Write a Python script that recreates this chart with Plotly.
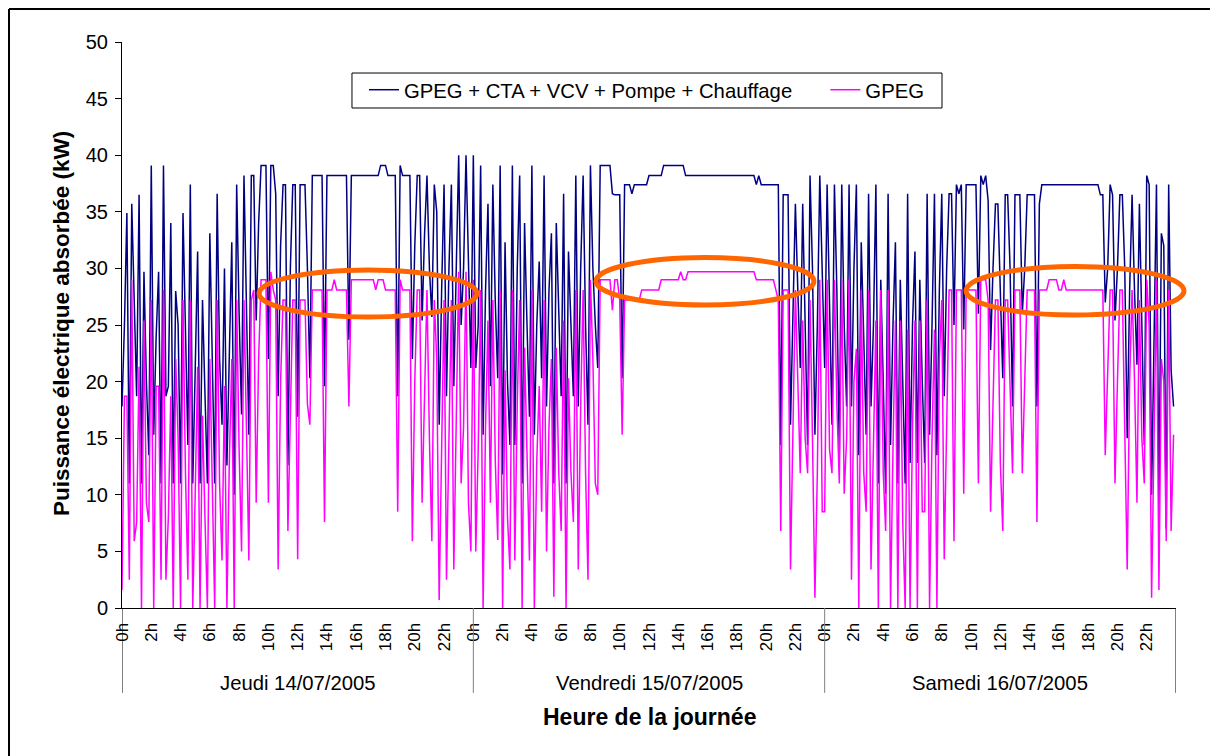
import plotly.graph_objects as go

# mesures toutes les 10 minutes, 144 points par jour (kW)
tot_jeudi = [
    17.8, 25.0, 34.9, 11.0, 35.7, 26.0,
    18.7, 36.5, 11.0, 29.7, 20.0, 13.5,
    39.1, 15.3, 24.0, 29.7, 11.0, 39.1,
    18.7, 19.6, 34.0, 11.0, 28.0, 25.0,
    11.0, 34.9, 24.0, 14.4, 37.4, 11.0,
    21.0, 31.5, 11.0, 27.2, 19.0, 11.0,
    33.1, 21.0, 11.0, 36.6, 22.0, 16.2,
    30.0, 12.6, 24.0, 32.3, 10.0, 37.4,
    26.0, 17.1, 38.2, 27.0, 15.3, 38.2,
    38.2, 25.4, 34.0, 39.1, 39.1, 39.1,
    22.0, 39.1, 39.1, 36.6, 18.7, 32.0,
    37.4, 37.4, 12.6, 30.0, 37.4, 37.4,
    16.9, 37.4, 37.4, 37.4, 30.0, 20.3,
    38.2, 38.2, 38.2, 38.2, 38.2, 19.6,
    38.2, 38.2, 38.2, 38.2, 38.2, 38.2,
    38.2, 38.2, 38.2, 23.7, 38.2, 38.2,
    38.2, 38.2, 38.2, 38.2, 38.2, 38.2,
    38.2, 38.2, 38.2, 38.2, 39.1, 39.1,
    39.1, 38.2, 38.2, 38.2, 38.2, 18.7,
    39.1, 38.2, 38.2, 38.2, 38.2, 22.0,
    32.0, 38.2, 38.2, 25.4, 33.0, 38.2,
    30.0, 25.7, 37.4, 35.0, 16.2, 28.0,
    37.4, 18.7, 30.0, 37.4, 19.6, 30.0,
    40.0, 25.0, 30.0, 40.0, 30.0, 21.2,
]
gpeg_jeudi = [
    1.6, 18.7, 18.7, 2.5, 29.0, 5.9,
    7.6, 21.3, 0.0, 25.4, 9.3, 7.6,
    27.2, 0.0, 19.6, 19.6, 2.5, 28.1,
    2.5, 8.0, 18.7, 0.0, 22.0, 15.0,
    0.0, 27.2, 12.0, 2.5, 27.2, 0.0,
    10.0, 21.3, 0.0, 17.0, 8.0, 0.0,
    22.0, 10.0, 0.0, 27.2, 11.0, 4.2,
    19.6, 0.0, 13.0, 22.0, 0.0, 27.2,
    14.0, 5.0, 27.2, 16.0, 4.2, 27.2,
    28.1, 9.3, 22.0, 29.0, 29.0, 29.0,
    9.3, 29.7, 28.1, 27.2, 3.4, 20.0,
    27.2, 27.2, 6.8, 18.0, 27.2, 27.2,
    4.3, 27.2, 27.2, 27.2, 18.0, 16.2,
    28.1, 28.1, 28.1, 28.1, 28.1, 7.6,
    28.1, 28.1, 28.1, 29.0, 28.1, 28.1,
    28.1, 28.1, 28.1, 17.8, 29.0, 29.0,
    29.0, 29.0, 29.0, 29.0, 29.0, 29.0,
    29.0, 29.0, 28.1, 29.0, 29.0, 29.0,
    28.1, 28.1, 28.1, 28.1, 28.1, 8.5,
    29.0, 28.1, 28.1, 28.1, 28.1, 5.9,
    20.0, 28.1, 28.1, 9.3, 18.0, 28.1,
    15.0, 5.9, 27.2, 22.0, 0.7, 14.0,
    27.2, 2.5, 16.0, 27.2, 3.4, 18.0,
    29.7, 11.0, 16.0, 29.7, 9.3, 5.0,
]
tot_vendredi = [
    40.0, 21.2, 25.0, 39.1, 15.3, 28.0,
    35.7, 19.6, 37.4, 27.0, 20.3, 39.1,
    11.8, 32.3, 20.0, 14.4, 39.1, 14.4,
    30.0, 38.2, 11.0, 34.0, 25.0, 16.9,
    39.1, 15.3, 25.0, 30.6, 20.3, 38.2,
    17.8, 28.0, 33.1, 11.0, 34.0, 25.0,
    18.7, 36.6, 11.0, 31.5, 25.0, 18.7,
    38.2, 17.8, 30.0, 38.2, 25.0, 16.2,
    39.1, 30.0, 25.0, 21.2, 39.1, 39.1,
    39.1, 39.1, 39.1, 36.6, 36.5, 36.5,
    36.5, 20.3, 37.4, 37.4, 37.4, 36.6,
    37.4, 37.4, 37.4, 37.4, 37.4, 37.4,
    38.2, 38.2, 38.2, 38.2, 38.2, 38.2,
    39.1, 39.1, 39.1, 39.1, 39.1, 39.1,
    39.1, 39.1, 39.1, 38.2, 38.2, 38.2,
    38.2, 38.2, 38.2, 38.2, 38.2, 38.2,
    38.2, 38.2, 38.2, 38.2, 38.2, 38.2,
    38.2, 38.2, 38.2, 38.2, 38.2, 38.2,
    38.2, 38.2, 38.2, 38.2, 38.2, 38.2,
    38.2, 38.2, 37.4, 38.2, 37.4, 37.4,
    37.4, 37.4, 37.4, 37.4, 37.4, 37.4,
    14.4, 36.5, 36.5, 36.5, 16.2, 25.0,
    35.7, 28.0, 21.2, 35.7, 25.0, 14.4,
    38.2, 30.0, 15.3, 25.0, 38.2, 30.0,
]
gpeg_vendredi = [
    29.0, 5.0, 14.0, 28.1, 0.0, 16.0,
    25.4, 9.3, 27.2, 13.0, 6.0, 28.1,
    0.0, 21.0, 8.0, 3.4, 28.1, 4.2,
    18.0, 27.2, 0.0, 23.0, 12.0, 4.2,
    28.1, 0.0, 13.0, 19.6, 8.5, 27.2,
    5.0, 16.0, 22.0, 1.0, 23.0, 12.0,
    6.8, 25.4, 0.0, 20.3, 12.0, 7.6,
    28.1, 3.4, 18.0, 28.1, 12.0, 2.5,
    29.0, 22.0, 11.0, 10.0, 29.0, 29.0,
    29.0, 29.0, 29.0, 26.3, 29.0, 29.0,
    27.2, 15.3, 27.2, 27.2, 27.2, 27.2,
    27.2, 27.2, 27.2, 28.1, 28.1, 28.1,
    28.1, 28.1, 28.1, 28.1, 28.1, 29.0,
    29.0, 29.0, 29.0, 29.0, 29.0, 29.0,
    29.0, 29.7, 29.0, 29.0, 29.7, 29.7,
    29.7, 29.7, 29.7, 29.7, 29.7, 29.7,
    29.7, 29.7, 29.7, 29.7, 29.7, 29.7,
    29.7, 29.7, 29.7, 29.7, 29.7, 29.7,
    29.7, 29.7, 29.7, 29.7, 29.7, 29.7,
    29.7, 29.7, 29.0, 29.0, 29.0, 29.0,
    29.0, 29.0, 29.0, 29.0, 28.1, 27.2,
    6.8, 28.1, 28.1, 28.1, 3.4, 15.0,
    28.1, 20.0, 11.9, 25.4, 15.0, 11.9,
    27.2, 15.0, 0.9, 12.0, 29.0, 8.5,
]
tot_samedi = [
    21.2, 37.4, 25.0, 16.2, 37.4, 28.0,
    13.5, 37.4, 25.0, 17.8, 37.4, 17.8,
    30.0, 37.4, 13.5, 32.3, 24.0, 15.3,
    36.6, 17.8, 25.0, 37.4, 11.0, 29.0,
    20.0, 10.1, 36.6, 14.4, 25.0, 32.3,
    11.0, 29.0, 20.0, 11.0, 36.6, 12.8,
    25.0, 31.5, 12.8, 29.0, 20.0, 12.8,
    36.6, 15.3, 25.0, 36.6, 13.5, 28.0,
    36.6, 18.7, 30.0, 36.6, 36.6, 25.0,
    37.4, 36.6, 37.4, 24.6, 37.4, 37.4,
    37.4, 37.4, 37.4, 26.0, 38.2, 37.4,
    38.2, 36.0, 22.8, 30.0, 35.7, 35.7,
    28.0, 20.3, 36.5, 36.5, 30.0, 17.8,
    36.5, 36.5, 36.5, 26.0, 30.0, 36.5,
    36.5, 36.5, 36.5, 17.8, 35.7, 37.4,
    37.4, 37.4, 37.4, 37.4, 37.4, 37.4,
    37.4, 37.4, 37.4, 37.4, 37.4, 37.4,
    37.4, 37.4, 37.4, 37.4, 37.4, 37.4,
    37.4, 37.4, 37.4, 37.4, 37.4, 36.5,
    36.5, 27.0, 30.0, 37.4, 36.5, 25.4,
    30.0, 36.5, 36.5, 30.0, 15.0, 28.0,
    36.5, 28.0, 21.5, 35.7, 25.0, 14.4,
    38.2, 37.4, 10.0, 25.0, 37.4, 9.0,
    33.1, 32.0, 7.0, 37.4, 21.0, 17.8,
]
gpeg_samedi = [
    8.5, 29.0, 14.0, 11.9, 29.0, 18.0,
    11.0, 29.0, 10.1, 15.0, 29.0, 2.5,
    20.0, 22.9, 0.0, 28.1, 12.0, 8.5,
    28.1, 3.4, 15.0, 25.4, 0.0, 28.1,
    12.0, 6.8, 28.1, 0.0, 14.0, 25.4,
    0.0, 25.4, 7.6, 0.0, 24.6, 0.0,
    16.0, 25.4, 0.0, 25.4, 8.5, 8.5,
    27.2, 0.0, 15.0, 24.6, 0.0, 22.0,
    27.2, 4.3, 16.0, 28.1, 28.1, 5.9,
    28.1, 28.1, 28.1, 10.1, 28.1, 28.1,
    28.1, 28.1, 28.1, 11.0, 29.0, 29.0,
    29.0, 27.2, 8.5, 18.0, 27.2, 27.2,
    12.8, 6.8, 27.2, 27.2, 20.0, 11.9,
    28.1, 28.1, 28.1, 11.9, 20.0, 28.1,
    28.1, 28.1, 28.1, 7.6, 28.1, 28.1,
    28.1, 28.1, 29.0, 29.0, 29.0, 29.0,
    28.1, 28.1, 29.0, 28.1, 28.1, 28.1,
    28.1, 28.1, 28.1, 28.1, 28.1, 28.1,
    28.1, 28.1, 28.1, 28.1, 28.1, 28.1,
    28.1, 13.5, 20.0, 28.1, 28.1, 11.0,
    20.0, 28.1, 28.1, 15.0, 3.4, 20.0,
    28.1, 20.0, 9.3, 27.2, 15.0, 11.0,
    29.0, 25.0, 0.9, 15.0, 29.0, 1.6,
    22.0, 20.0, 5.9, 28.1, 6.8, 15.3,
]

jours = ["Jeudi 14/07/2005", "Vendredi 15/07/2005", "Samedi 16/07/2005"]
heures = ["0h", "2h", "4h", "6h", "8h", "10h", "12h", "14h", "16h", "18h", "20h", "22h"]

tot = tot_jeudi + tot_vendredi + tot_samedi
gpeg = gpeg_jeudi + gpeg_vendredi + gpeg_samedi
temps = [i / 6 for i in range(len(tot))]  # heures depuis jeudi 0h

FONT = "Liberation Sans, Arial, sans-serif"
NBSP = "\u00a0"

fig = go.Figure()
fig.add_trace(go.Scatter(x=temps, y=tot, mode="lines",
                         name="GPEG + CTA + VCV + Pompe + Chauffage" + NBSP * 5,
                         line=dict(color="#000080", width=1.5)))
fig.add_trace(go.Scatter(x=temps, y=gpeg, mode="lines", name="GPEG",
                         line=dict(color="#FF00FF", width=1.5)))

tickvals = [24 * d + 2 * k for d in range(3) for k in range(12)]
ticktext = heures * 3

fig.update_xaxes(range=[0, 72], tickvals=tickvals, ticktext=ticktext,
                 tickangle=-90, ticks="", ticklabelstandoff=7,
                 showline=True, linecolor="black",
                 linewidth=1, showgrid=False, zeroline=False,
                 tickfont=dict(size=17, color="black"))
fig.update_yaxes(range=[0, 50], dtick=5, ticks="outside", ticklen=6,
                 ticklabelstandoff=3,
                 tickcolor="black", showline=True, linecolor="black",
                 linewidth=1, showgrid=False, zeroline=False,
                 tickfont=dict(size=20, color="black"))

shapes = []
# cadre de la légende
shapes.append(dict(type="rect", xref="paper", yref="paper",
                   x0=0.2182, x1=0.778, y0=0.8834, y1=0.9452,
                   line=dict(color="black", width=1), fillcolor="white"))

# séparateurs des jours sous l'axe
for d in range(4):
    shapes.append(dict(type="line", xref="x", yref="paper", x0=24 * d, x1=24 * d,
                       y0=0, y1=-0.15,
                       line=dict(color="black" if d in (0, 3) else "#808080", width=1)))

# ellipses orange
for x0, x1, y0, y1 in [(0.130, 0.3368, 0.5141, 0.5972),
                       (0.4497, 0.6565, 0.5353, 0.6193),
                       (0.8008, 1.0076, 0.5177, 0.6034)]:
    shapes.append(dict(type="circle", xref="paper", yref="paper",
                       x0=x0, x1=x1, y0=y0, y1=y1,
                       line=dict(color="#FF6600", width=5)))

# cadre extérieur (haut et gauche)
shapes.append(dict(type="line", xref="paper", yref="paper", x0=-0.1072, x1=1.06,
                   y0=1.0583, y1=1.0583, line=dict(color="black", width=2)))
shapes.append(dict(type="line", xref="paper", yref="paper", x0=-0.1072, x1=-0.1072,
                   y0=1.0583, y1=-0.27, line=dict(color="black", width=2)))

annotations = []
for d, jour in enumerate(jours):
    annotations.append(dict(x=24 * d + 12, y=-0.1325, xref="x", yref="paper",
                            xanchor="center", yanchor="middle",
                            text=jour, showarrow=False,
                            font=dict(size=20.3, color="black")))
annotations.append(dict(x=0.5, y=-0.1926, xref="paper", yref="paper",
                        xanchor="center", yanchor="middle",
                        text="<b>Heure de la journée</b>", showarrow=False,
                        font=dict(size=23, color="black")))
annotations.append(dict(x=-0.0569, y=0.502, xref="paper", yref="paper",
                        xanchor="center", yanchor="middle",
                        text="<b>Puissance électrique absorbée (kW)</b>",
                        textangle=-90, showarrow=False,
                        font=dict(size=22.5, color="black")))

# la page ajoute 8 px de marge : figure réduite d'autant
fig.update_layout(
    width=1210, height=748,
    margin=dict(l=114, r=42, t=34, b=148),
    paper_bgcolor="white", plot_bgcolor="white",
    font=dict(family=FONT, color="black"),
    showlegend=True,
    legend=dict(orientation="h", x=0.2296, y=0.9505, xanchor="left", yanchor="top",
                borderwidth=0, bgcolor="rgba(0,0,0,0)",
                font=dict(size=20.3), itemwidth=30),
    shapes=shapes,
    annotations=annotations,
)

fig.write_html("out.html")
